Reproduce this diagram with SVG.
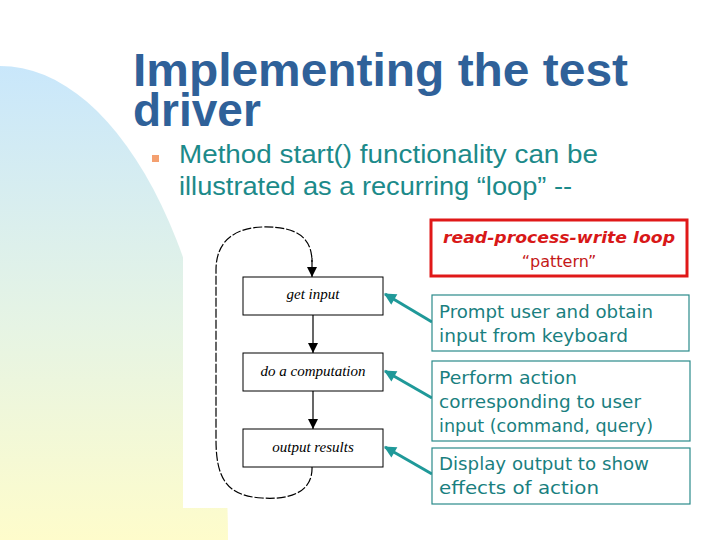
<svg xmlns="http://www.w3.org/2000/svg" width="720" height="540" viewBox="0 0 720 540">
<defs>
<linearGradient id="bg" x1="0" y1="0" x2="0" y2="1">
<stop offset="0" stop-color="#c9e7fb"/>
<stop offset="0.55" stop-color="#e6f4e4"/>
<stop offset="1" stop-color="#fefccb"/>
</linearGradient>
<marker id="blk" viewBox="0 0 10 10" refX="10" refY="5" markerWidth="10" markerHeight="14" markerUnits="userSpaceOnUse" orient="auto">
<path d="M0,0 L10,5 L0,10 z" fill="#000"/>
</marker>
<marker id="teal" viewBox="0 0 10 10" refX="9" refY="5" markerWidth="14" markerHeight="12" markerUnits="userSpaceOnUse" orient="auto">
<path d="M0,0 L10,5 L0,10 z" fill="#1f9999"/>
</marker>
<style>
.title{font-family:"Liberation Sans",Arial,sans-serif;font-weight:bold;font-size:46px;fill:#2f6199}
.bul{font-family:"Liberation Sans",Arial,sans-serif;font-size:25px;fill:#1c8a8a}
.box{fill:#fff;stroke:#000;stroke-width:1}
.lbl{font-family:"Liberation Serif","Times New Roman",serif;font-style:italic;font-size:15px;fill:#000;text-anchor:middle}
.note{fill:#fff;stroke:#2a8a8a;stroke-width:1.2}
.nt{font-family:"DejaVu Sans",sans-serif;font-size:17px;fill:#1a7f7f}
.flow{stroke:#000;stroke-width:1.2;fill:none}
.ptr{stroke:#1f9999;stroke-width:3;fill:none}
</style>
</defs>
<path d="M0,66 A228,474 0 0 1 228,540 L0,540 Z" fill="url(#bg)"/>
<rect x="183" y="210" width="250" height="298" fill="#fff"/>

<g id="title">
<text class="title" x="133" y="86" textLength="495" lengthAdjust="spacingAndGlyphs">Implementing the test</text>
<text class="title" x="133" y="126">driver</text>
</g>
<g id="bullet">
<rect x="152" y="155" width="7" height="7" fill="#f4a070"/>
<text class="bul" x="179" y="163" textLength="419" lengthAdjust="spacingAndGlyphs">Method start() functionality can be</text>
<text class="bul" x="179" y="195" textLength="393" lengthAdjust="spacingAndGlyphs">illustrated as a recurring “loop” --</text>
</g>

<g id="connectors">
<line class="flow" x1="313" y1="315" x2="313" y2="353" marker-end="url(#blk)"/>
<line class="flow" x1="313" y1="391" x2="313" y2="429" marker-end="url(#blk)"/>
<path class="flow" stroke-dasharray="9,2" d="M312,467 C313,492 290,500 262,498 C228,496 216,480 216,440 L216,270 C216,240 236,228 262,227 C300,226 312,240 312,262" />
<line class="flow" x1="312" y1="258" x2="312" y2="277" marker-end="url(#blk)"/>
<line class="ptr" x1="432" y1="322" x2="385" y2="294" marker-end="url(#teal)"/>
<line class="ptr" x1="432" y1="398" x2="385" y2="371" marker-end="url(#teal)"/>
<line class="ptr" x1="432" y1="474" x2="385" y2="447" marker-end="url(#teal)"/>
</g>

<g id="get-input">
<rect class="box" x="243" y="277" width="140" height="38"/>
<text class="lbl" x="313" y="299">get input</text>
</g>
<g id="do-computation">
<rect class="box" x="243" y="353" width="140" height="38"/>
<text class="lbl" x="313" y="376">do a computation</text>
</g>
<g id="output-results">
<rect class="box" x="243" y="429" width="140" height="38"/>
<text class="lbl" x="313" y="452">output results</text>
</g>

<g id="pattern">
<rect x="431" y="220" width="256" height="56" fill="#fff" stroke="#e01818" stroke-width="3"/>
<text x="559" y="243" text-anchor="middle" font-family="DejaVu Sans,sans-serif" font-weight="bold" font-style="italic" font-size="16" fill="#d81818" textLength="232" lengthAdjust="spacingAndGlyphs">read-process-write loop</text>
<text x="559" y="267" text-anchor="middle" font-family="DejaVu Sans,sans-serif" font-size="16" fill="#c41818">“pattern”</text>
</g>
<g id="note-input">
<rect class="note" x="432" y="295" width="257" height="56"/>
<text class="nt" x="439" y="318" textLength="214" lengthAdjust="spacingAndGlyphs">Prompt user and obtain</text>
<text class="nt" x="439" y="342" textLength="189" lengthAdjust="spacingAndGlyphs">input from keyboard</text>
</g>
<g id="note-action">
<rect class="note" x="432" y="361" width="258" height="80"/>
<text class="nt" x="439" y="384" textLength="138" lengthAdjust="spacingAndGlyphs">Perform action</text>
<text class="nt" x="439" y="408" textLength="202" lengthAdjust="spacingAndGlyphs">corresponding to user</text>
<text class="nt" x="439" y="432" textLength="214" lengthAdjust="spacingAndGlyphs">input (command, query)</text>
</g>
<g id="note-output">
<rect class="note" x="432" y="448" width="258" height="56"/>
<text class="nt" x="439" y="470" textLength="210" lengthAdjust="spacingAndGlyphs">Display output to show</text>
<text class="nt" x="439" y="494" textLength="160" lengthAdjust="spacingAndGlyphs">effects of action</text>
</g>
</svg>
